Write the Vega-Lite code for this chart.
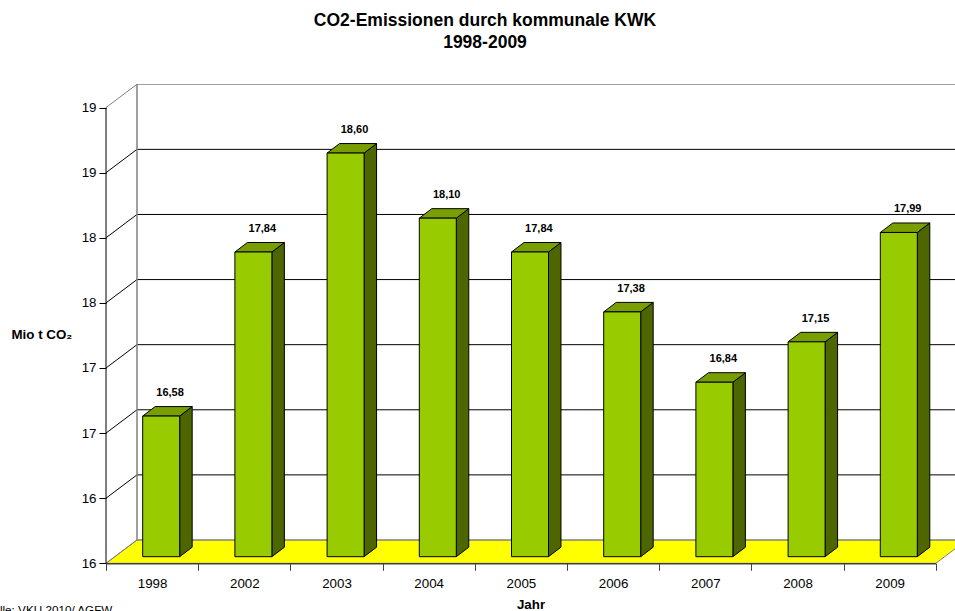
{
"$schema":"https://vega.github.io/schema/vega-lite/v6.json",
"width":849,"height":479.3,
"autosize":{"type":"none"},
"padding":{"left":106,"top":84,"right":0,"bottom":47.7},
"background":"white",
"config":{"view":{"stroke":null},"font":"Liberation Sans","text":{"font":"Liberation Sans"}},
"title":{"text":["CO2-Emissionen durch kommunale KWK","1998-2009"],"anchor":"middle","frame":"group","dx":-45.5,"offset":31,"fontSize":17.5,"fontWeight":"bold","font":"Liberation Sans","lineHeight":21.5,"color":"#000000"},
"datasets":{
"werte":[
{"jahr":"1998","wert":16.58},{"jahr":"2002","wert":17.84},{"jahr":"2003","wert":18.60},
{"jahr":"2004","wert":18.10},{"jahr":"2005","wert":17.84},{"jahr":"2006","wert":17.38},
{"jahr":"2007","wert":16.84},{"jahr":"2008","wert":17.15},{"jahr":"2009","wert":17.99}],
"achse":[{"t":15.5},{"t":16},{"t":16.5},{"t":17},{"t":17.5},{"t":18},{"t":18.5},{"t":19}],
"boden":[{"x":0,"o":15.5,"u":15.5},{"x":0.3362,"o":15.679,"u":15.5},{"x":9,"o":15.679,"u":15.5},{"x":9.3362,"o":15.679,"u":15.679}]
},
"resolve":{"scale":{"x":"independent"}},
"layer":[
{"data":{"name":"boden"},
 "mark":{"type":"area","fill":"#FFFF00","stroke":"#808080","strokeWidth":1,"clip":true},
 "encoding":{
  "x":{"field":"x","type":"quantitative","scale":{"domain":[0,9.208],"nice":false,"zero":false},"axis":null},
  "y":{"field":"o","type":"quantitative","scale":{"domain":[15.5,19.181],"nice":false,"zero":false},
   "axis":{"values":[15.5,16,16.5,17,17.5,18,18.5,19],"format":".0f","grid":false,"domain":false,"tickSize":7,"tickColor":"#000000","labelColor":"#000000","labelFontSize":13.33,"labelPadding":3,"labelFont":"Liberation Sans","zindex":1,
   "title":"Mio t CO₂","titleAngle":0,"titleX":-95,"titleY":250,"titleAlign":"left","titleBaseline":"middle","titleFontSize":13.33,"titleFontWeight":"bold","titleFont":"Liberation Sans","titleColor":"#000000"}},
  "y2":{"field":"u"}}},
{"data":{"name":"achse"},
 "transform":[{"calculate":"datum.t+0.179","as":"yb"}],
 "mark":{"type":"rule","clip":true,"strokeWidth":1},
 "encoding":{
  "x":{"datum":0.3362,"type":"quantitative","scale":{"domain":[0,9.208],"nice":false,"zero":false},"axis":null},
  "x2":{"datum":9.5},
  "y":{"field":"yb","type":"quantitative","scale":{"domain":[15.5,19.181],"nice":false,"zero":false}},
  "color":{"condition":{"test":"datum.t==15.5||datum.t==19","value":"#808080"},"value":"#000000"}}},
{"data":{"name":"achse"},
 "transform":[{"calculate":"[0,1]","as":"s"},{"flatten":["s"]},{"calculate":"datum.s*0.3362","as":"xd"},{"calculate":"datum.t+datum.s*0.179","as":"yd"}],
 "mark":{"type":"line","strokeWidth":1},
 "encoding":{
  "x":{"field":"xd","type":"quantitative","scale":{"domain":[0,9.208],"nice":false,"zero":false},"axis":null},
  "y":{"field":"yd","type":"quantitative","scale":{"domain":[15.5,19.181],"nice":false,"zero":false}},
  "detail":{"field":"t"},
  "color":{"condition":{"test":"datum.t==15.5||datum.t==19","value":"#808080"},"value":"#000000"}}},
{"mark":{"type":"rule","color":"#808080","strokeWidth":1.5},
 "data":{"values":[{"a":15.679,"b":19.179}]},
 "encoding":{
  "x":{"datum":0.3362,"type":"quantitative","scale":{"domain":[0,9.208],"nice":false,"zero":false},"axis":null},
  "y":{"field":"a","type":"quantitative","scale":{"domain":[15.5,19.181],"nice":false,"zero":false}},
  "y2":{"field":"b"}}},
{"mark":{"type":"rule","color":"#000000","strokeWidth":1},
 "data":{"values":[{"a":15.5,"b":19}]},
 "encoding":{
  "x":{"datum":0,"type":"quantitative","scale":{"domain":[0,9.208],"nice":false,"zero":false},"axis":null},
  "y":{"field":"a","type":"quantitative","scale":{"domain":[15.5,19.181],"nice":false,"zero":false}},
  "y2":{"field":"b"}}},
{"data":{"name":"werte"},
 "transform":[{"window":[{"op":"row_number","as":"i"}]},{"calculate":"[0,1]","as":"s"},{"flatten":["s"]},
  {"calculate":"datum.i-1+0.799+datum.s*0.1356","as":"xs"},{"calculate":"datum.wert+0.0507+datum.s*0.073","as":"yo"},{"calculate":"15.5+0.0507+datum.s*0.073","as":"yu"}],
 "mark":{"type":"area","fill":"#4D6600","stroke":"#000000","strokeWidth":1},
 "encoding":{
  "x":{"field":"xs","type":"quantitative","scale":{"domain":[0,9.208],"nice":false,"zero":false},"axis":null},
  "y":{"field":"yo","type":"quantitative","scale":{"domain":[15.5,19.181],"nice":false,"zero":false}},
  "y2":{"field":"yu"},
  "detail":{"field":"jahr"}}},
{"data":{"name":"werte"},
 "transform":[{"window":[{"op":"row_number","as":"i"}]},{"calculate":"datum.i-1+0.398","as":"xl"},{"calculate":"datum.wert+0.0507","as":"yo"}],
 "mark":{"type":"point","filled":true,"opacity":1,"fill":"#789E00","stroke":"#000000","strokeWidth":1,"size":4,"shape":"M0,0 L37,0 L49.5,-9.5 L12.5,-9.5 Z"},
 "encoding":{
  "x":{"field":"xl","type":"quantitative","scale":{"domain":[0,9.208],"nice":false,"zero":false},"axis":null},
  "y":{"field":"yo","type":"quantitative","scale":{"domain":[15.5,19.181],"nice":false,"zero":false}}}},
{"data":{"name":"werte"},
 "mark":{"type":"bar","fill":"#99CC00","stroke":"#000000","strokeWidth":1,"width":37,"xOffset":9.1,"yOffset":-6.6,"y2Offset":-6.6},
 "encoding":{
  "x":{"field":"jahr","type":"nominal","sort":null,"scale":{"type":"band","range":[0,829.8],"paddingInner":0,"paddingOuter":0},
   "axis":{"title":"Jahr","labelAngle":0,"labelFontSize":13.33,"labelFont":"Liberation Sans","labelColor":"#000000","labelPadding":6,"tickBand":"extent","tickSize":7,"tickColor":"#404040","domainColor":"#404040","domainWidth":1.5,"zindex":1,
    "titleX":424.5,"titleY":34,"titleFontSize":13.33,"titleFontWeight":"bold","titleFont":"Liberation Sans","titleColor":"#000000"}},
  "y":{"field":"wert","type":"quantitative","scale":{"domain":[15.5,19.181],"nice":false,"zero":false}},
  "y2":{"datum":15.5}}},
{"data":{"name":"werte"},
 "transform":[{"window":[{"op":"row_number","as":"i"}]},{"calculate":"datum.i-1+0.5+0.195","as":"xt"},{"calculate":"replace(format(datum.wert,'.2f'),'.',',')","as":"txt"}],
 "mark":{"type":"text","fontSize":11,"fontWeight":"bold","font":"Liberation Sans","color":"#000000","baseline":"middle","align":"center","dy":-29.6},
 "encoding":{
  "x":{"field":"xt","type":"quantitative","scale":{"domain":[0,9.208],"nice":false,"zero":false},"axis":null},
  "y":{"field":"wert","type":"quantitative","scale":{"domain":[15.5,19.181],"nice":false,"zero":false}},
  "text":{"field":"txt"}}},
{"data":{"values":[{"q":"Quelle: VKU 2010/ AGFW","yq":15.1075}]},
 "mark":{"type":"text","fontSize":11.7,"font":"Liberation Sans","color":"#000000","align":"left","baseline":"alphabetic"},
 "encoding":{
  "x":{"datum":-1.39,"type":"quantitative","scale":{"domain":[0,9.208],"nice":false,"zero":false},"axis":null},
  "y":{"field":"yq","type":"quantitative","scale":{"domain":[15.5,19.181],"nice":false,"zero":false}},
  "text":{"field":"q"}}}
]
}
